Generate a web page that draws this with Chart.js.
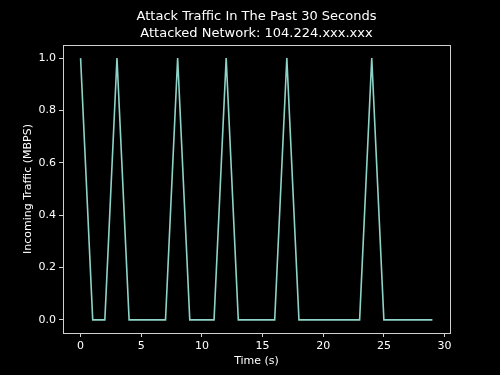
<!DOCTYPE html>
<html>
<head>
<meta charset="utf-8">
<script src="https://cdn.jsdelivr.net/npm/chart.js@4"></script>
<style>
  html, body { margin: 0; padding: 0; background: #000; }
</style>
</head>
<body>
<canvas id="TrafficChart" width="500" height="375"></canvas>
<script>
// seconds in the window and incoming traffic per second
var seconds = [0, 1, 2, 3, 4, 5, 6, 7, 8, 9, 10, 11, 12, 13, 14, 15, 16, 17, 18, 19, 20, 21, 22, 23, 24, 25, 26, 27, 28, 29];
var traffic = [1, 0, 0, 1, 0, 0, 0, 0, 1, 0, 0, 0, 1, 0, 0, 0, 0, 1, 0, 0, 0, 0, 0, 0, 1, 0, 0, 0, 0, 0];
var xTicks = [0, 5, 10, 15, 20, 25, 30];
var yTicks = [0, 0.2, 0.4, 0.6, 0.8, 1.0];
var titleLines = ['Attack Traffic In The Past 30 Seconds', 'Attacked Network: 104.224.xxx.xxx'];

Chart.defaults.font.family = "'DejaVu Sans', sans-serif";
Chart.defaults.color = '#ffffff';

// frame round the plot, plus the title centred over the plot area
var framePlugin = {
  id: 'frame',
  afterDraw: function(chart) {
    var a = chart.chartArea, c = chart.ctx;
    c.save();
    c.strokeStyle = '#d0d0d0';
    c.lineWidth = 1;
    c.strokeRect(Math.round(a.left) + 0.5, Math.round(a.top) + 0.5,
                 Math.round(a.right - a.left), Math.round(a.bottom - a.top));
    c.fillStyle = '#ffffff';
    c.font = "13px 'DejaVu Sans'";
    c.textAlign = 'center';
    c.textBaseline = 'middle';
    var cx = (a.left + a.right) / 2;
    c.fillText(titleLines[0], cx, 17);
    c.fillText(titleLines[1], cx, 34);
    c.restore();
  }
};

var ctx = document.getElementById('TrafficChart').getContext('2d');
var trafficChart = new Chart(ctx, {
  type: 'line',
  data: {
    datasets: [{
      label: 'traffic',
      data: seconds.map(function(s, i) { return { x: s, y: traffic[i] }; }),
      borderColor: '#8dd3c7',
      borderWidth: 1.6,
      pointRadius: 0,
      tension: 0,
      fill: false
    }]
  },
  options: {
    responsive: false,
    animation: false,
    layout: { padding: { top: 45, right: 50, bottom: 7, left: 22 } },
    plugins: { legend: { display: false }, tooltip: { enabled: false } },
    scales: {
      x: {
        type: 'linear',
        min: -1.45,
        max: 30.45,
        afterBuildTicks: function(s) { s.ticks = xTicks.map(function(v) { return { value: v }; }); },
        afterFit: function(s) { s.height = 35; },
        ticks: { font: { size: 11 }, padding: 3, maxRotation: 0, color: '#ffffff' },
        grid: { drawOnChartArea: false, drawTicks: true, tickLength: 4, color: '#d0d0d0' },
        border: { display: false },
        title: { display: true, text: 'Time (s)', font: { size: 11 }, padding: { top: 2, bottom: 0 }, color: '#ffffff' }
      },
      y: {
        min: -0.05,
        max: 1.05,
        afterBuildTicks: function(s) { s.ticks = yTicks.map(function(v) { return { value: v }; }); },
        afterFit: function(s) { s.width = 41; },
        ticks: { font: { size: 11 }, padding: 3, color: '#ffffff', callback: function(v) { return v.toFixed(1); } },
        grid: { drawOnChartArea: false, drawTicks: true, tickLength: 4, color: '#d0d0d0' },
        border: { display: false },
        title: { display: true, text: 'Incoming Traffic (MBPS)', font: { size: 11 }, padding: { top: 0, bottom: 4 }, color: '#ffffff' }
      }
    }
  },
  plugins: [framePlugin]
});
</script>
</body>
</html>
